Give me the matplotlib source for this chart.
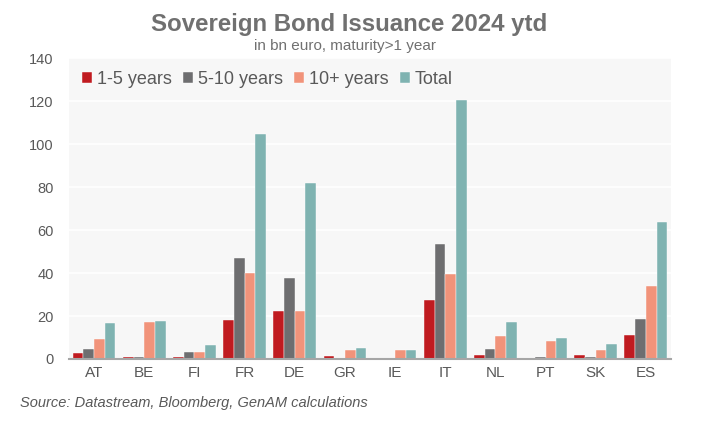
import matplotlib
matplotlib.use('Agg')
import matplotlib.pyplot as plt
import numpy as np

plt.rcParams['font.family'] = ['Liberation Sans', 'DejaVu Sans']

# issuance in bn euro, maturity > 1 year
countries = ['AT', 'BE', 'FI', 'FR', 'DE', 'GR', 'IE', 'IT', 'NL', 'PT', 'SK', 'ES']
y1_5 = [2.7, 0.7, 0.7, 18.0, 22.2, 1.2, 0.0, 27.3, 2.0, 0.5, 2.0, 11.4]
y5_10 = [4.8, 0.7, 3.4, 47.2, 37.6, 0.5, 0.0, 53.7, 4.8, 1.0, 1.0, 18.4]
y10_plus = [9.4, 17.0, 3.4, 40.0, 22.2, 4.4, 4.4, 39.4, 10.5, 8.2, 4.4, 34.0]
total = [16.6, 17.5, 6.6, 104.6, 81.9, 5.2, 4.4, 120.4, 17.0, 9.6, 7.1, 63.7]

series = [
    ('1-5 years', y1_5, '#C01B20'),
    ('5-10 years', y5_10, '#6E6E70'),
    ('10+ years', y10_plus, '#F1937A'),
    ('Total', total, '#7FB3B1'),
]

fig = plt.figure(figsize=(7.09, 4.32), dpi=100)
ax = fig.add_axes([0.0973, 0.169, 0.849, 0.696])
ax.set_facecolor('#F7F7F7')

x = np.arange(len(countries))
w = 0.213
for i, (name, vals, col) in enumerate(series):
    ax.bar(x + (i - 1.5) * w, vals, w, color=col, label=name,
           edgecolor='white', linewidth=0.3, zorder=3)

ax.set_xlim(-0.5, len(countries) - 0.5)
ax.set_ylim(0, 140)
ax.set_yticks(range(0, 141, 20))
ax.set_xticks(x)
ax.set_xticklabels(countries)
ax.grid(axis='y', color='white', linewidth=1.2, zorder=1)
ax.tick_params(axis='both', length=0, labelcolor='#595959')
ax.tick_params(axis='y', pad=11, labelsize=10.5)
ax.tick_params(axis='x', pad=5, labelsize=11)
for s in ['left', 'right', 'top']:
    ax.spines[s].set_visible(False)
ax.spines['bottom'].set_color('#A6A6A6')
ax.spines['bottom'].set_linewidth(1.5)
ax.spines['bottom'].set_zorder(4)

leg = ax.legend(loc='upper left', ncol=4, frameon=False, fontsize=13,
                handlelength=0.55, handleheight=0.55, handletextpad=0.3,
                columnspacing=0.6, borderaxespad=0.3,
                bbox_to_anchor=(0.0, 1.0))
for t in leg.get_texts():
    t.set_color('#595959')

fig.text(0.492, 1 - 31 / 432, 'Sovereign Bond Issuance 2024 ytd', ha='center',
         va='baseline', fontsize=17.3, fontweight='bold', color='#707070')
fig.text(0.487, 1 - 50 / 432, 'in bn euro, maturity>1 year', ha='center',
         va='baseline', fontsize=11, color='#707070')
fig.text(20 / 709, 1 - 406.5 / 432, 'Source: Datastream, Bloomberg, GenAM calculations',
         ha='left', va='baseline', fontsize=10.5, style='italic', color='#595959')

fig.savefig('out.png', dpi=100)
